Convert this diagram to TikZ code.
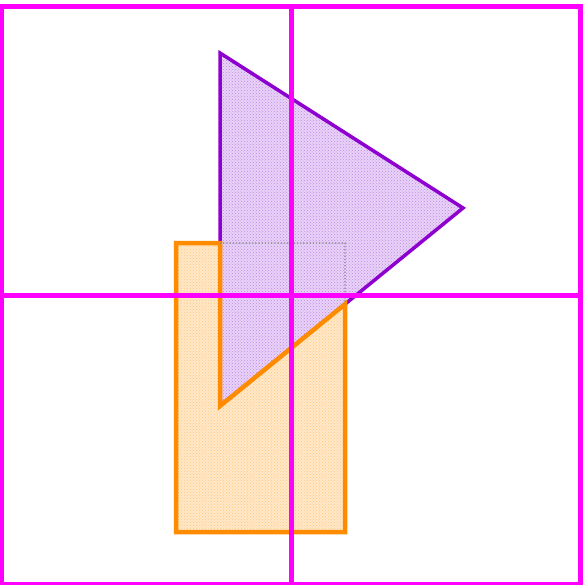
\documentclass[tikz,border=0pt]{standalone}
\usepackage{tikz}
\usetikzlibrary{calc, patterns}

\definecolor{framemag}{HTML}{FF00FF}
\definecolor{trivio}{HTML}{8E00D0}
\definecolor{trifill}{HTML}{E8D2F7}
\definecolor{tridots}{HTML}{C08AE8}
\definecolor{boxorange}{HTML}{FF8C00}
\definecolor{boxfill}{HTML}{FFE8C8}
\definecolor{boxdots}{HTML}{FFC680}

\begin{document}
\begin{tikzpicture}[
    x=1pt, y=-1pt,
    frame/.style={draw=framemag, line width=5pt},
    tri/.style={draw=trivio, preaction={fill=trifill}, pattern=crosshatch dots, pattern color=tridots, line width=3.5pt, line join=miter},
    clipbox/.style={draw=boxorange, preaction={fill=boxfill}, pattern=crosshatch dots, pattern color=boxdots, line width=4.5pt, line join=miter},
    hidden/.style={draw=gray, dotted, line width=1.2pt}
]
\useasboundingbox (0,0) rectangle (585,584);

% Points
\coordinate (tA) at (220,53);
\coordinate (tB) at (463,208);
\coordinate (tC) at (220,406);
\coordinate (bNW) at (176,243);
\coordinate (bSE) at (345,532);
\coordinate (bNE) at (345,243);
\coordinate (bSW) at (176,532);
\coordinate (cut) at (intersection of tC--tB and bNE--bSE);

% Triangle
\draw[tri] (tA) -- (tB) -- (tC) -- cycle;

% Box minus triangle
\draw[clipbox] (bNW) -- (tA |- bNW) -- (tC) -- (cut) -- (bSE) -- (bSW) -- cycle;
\draw[hidden] (tA |- bNW) -- (bNE) -- (cut);

% Frame
\draw[frame] (1.5,6.5) rectangle (580.5,584.5);
\draw[frame] (291,6.5) -- (291,584.5);
\draw[frame] (1.5,295.5) -- (580.5,295.5);

\end{tikzpicture}
\end{document}
